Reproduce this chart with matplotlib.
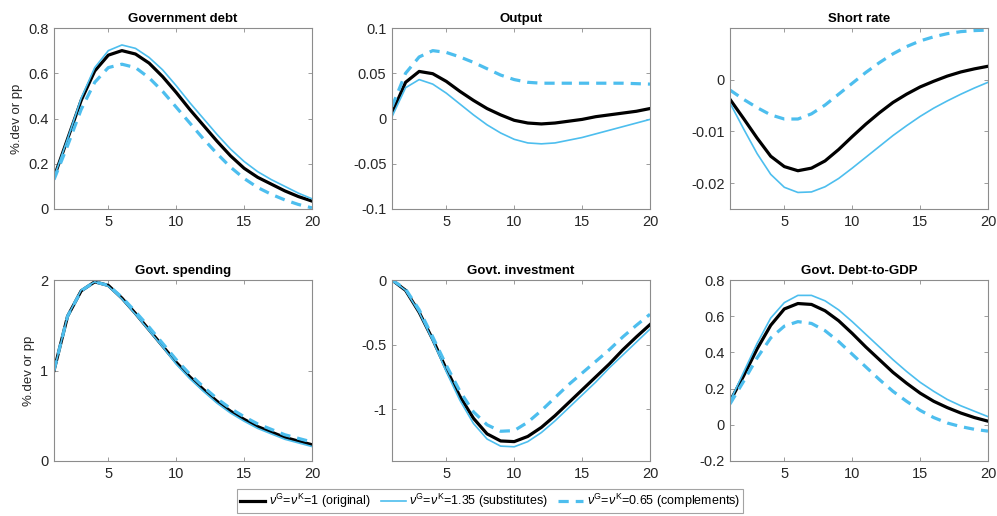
import matplotlib
matplotlib.use("Agg")
import matplotlib.pyplot as plt
import numpy as np

plt.rcParams['font.family'] = ['Liberation Sans', 'DejaVu Sans']
plt.rcParams['mathtext.fontset'] = 'custom'
plt.rcParams['mathtext.rm'] = 'Liberation Sans'
plt.rcParams['mathtext.it'] = 'Liberation Sans:italic'

horizon = np.arange(1, 21)

titles = ["Government debt", "Output", "Short rate",
          "Govt. spending", "Govt. investment", "Govt. Debt-to-GDP"]
series_labels = [r"$\nu^{\mathrm{G}}$=$\nu^{\mathrm{K}}$=1 (original)",
                 r"$\nu^{\mathrm{G}}$=$\nu^{\mathrm{K}}$=1.35 (substitutes)",
                 r"$\nu^{\mathrm{G}}$=$\nu^{\mathrm{K}}$=0.65 (complements)"]

debt_orig = [0.14, 0.31, 0.48, 0.61, 0.68, 0.70, 0.685, 0.645, 0.585, 0.515,
             0.44, 0.37, 0.30, 0.235, 0.18, 0.14, 0.11, 0.08, 0.055, 0.035]
debt_subs = [0.14, 0.31, 0.49, 0.625, 0.70, 0.725, 0.71, 0.67, 0.615, 0.545,
             0.47, 0.40, 0.33, 0.265, 0.21, 0.165, 0.13, 0.10, 0.07, 0.045]
debt_comp = [0.13, 0.28, 0.44, 0.56, 0.625, 0.64, 0.625, 0.58, 0.52, 0.45,
             0.38, 0.31, 0.245, 0.185, 0.135, 0.095, 0.065, 0.04, 0.02, 0.005]

out_orig = [0.006, 0.040, 0.052, 0.0495, 0.041, 0.030, 0.020, 0.011, 0.004, -0.002,
            -0.005, -0.006, -0.005, -0.003, -0.001, 0.002, 0.004, 0.006, 0.008, 0.011]
out_subs = [0.002, 0.034, 0.043, 0.038, 0.028, 0.016, 0.004, -0.007, -0.016, -0.023,
            -0.027, -0.028, -0.027, -0.024, -0.021, -0.017, -0.013, -0.009, -0.005, -0.001]
out_comp = [0.013, 0.050, 0.068, 0.075, 0.073, 0.068, 0.062, 0.055, 0.048, 0.043,
            0.040, 0.039, 0.039, 0.039, 0.039, 0.039, 0.039, 0.039, 0.0385, 0.038]

rate_orig = [-0.0038, -0.0075, -0.0113, -0.0148, -0.0168, -0.0176, -0.0171, -0.0157, -0.0135, -0.011,
             -0.0086, -0.0064, -0.0044, -0.0028, -0.0014, -0.0003, 0.0007, 0.0015, 0.0021, 0.0026]
rate_subs = [-0.0045, -0.0095, -0.0143, -0.0183, -0.0208, -0.0218, -0.0217, -0.0207, -0.0191, -0.0171,
             -0.015, -0.0129, -0.0108, -0.0089, -0.0071, -0.0055, -0.0041, -0.0028, -0.0016, -0.0005]
rate_comp = [-0.002, -0.0038, -0.0054, -0.0068, -0.0076, -0.0076, -0.0066, -0.0049, -0.0028, -0.0007,
             0.0014, 0.0033, 0.0050, 0.0064, 0.0075, 0.0083, 0.0089, 0.0093, 0.0095, 0.0096]

spend_orig = [1.0, 1.6, 1.88, 1.98, 1.94, 1.80, 1.63, 1.45, 1.27, 1.09,
              0.93, 0.79, 0.66, 0.55, 0.46, 0.38, 0.32, 0.26, 0.22, 0.18]
spend_subs = [1.0, 1.6, 1.89, 1.98, 1.93, 1.79, 1.62, 1.44, 1.26, 1.07,
              0.91, 0.77, 0.64, 0.53, 0.44, 0.36, 0.30, 0.24, 0.20, 0.16]
spend_comp = [1.0, 1.6, 1.88, 1.98, 1.94, 1.81, 1.65, 1.48, 1.30, 1.12,
              0.96, 0.82, 0.69, 0.58, 0.49, 0.41, 0.35, 0.29, 0.25, 0.21]

inv_orig = [0.0, -0.08, -0.25, -0.46, -0.69, -0.90, -1.07, -1.19, -1.245, -1.25,
            -1.21, -1.14, -1.05, -0.95, -0.85, -0.75, -0.65, -0.54, -0.44, -0.345]
inv_subs = [0.0, -0.08, -0.25, -0.47, -0.71, -0.93, -1.11, -1.23, -1.285, -1.29,
            -1.25, -1.18, -1.09, -0.99, -0.89, -0.79, -0.68, -0.58, -0.48, -0.38]
inv_comp = [0.0, -0.07, -0.23, -0.44, -0.66, -0.86, -1.02, -1.12, -1.17, -1.165,
            -1.10, -1.01, -0.91, -0.81, -0.72, -0.63, -0.54, -0.44, -0.35, -0.265]

dgdp_orig = [0.13, 0.27, 0.42, 0.55, 0.64, 0.67, 0.665, 0.63, 0.575, 0.505,
             0.43, 0.36, 0.29, 0.23, 0.175, 0.13, 0.095, 0.065, 0.04, 0.02]
dgdp_subs = [0.13, 0.29, 0.45, 0.59, 0.675, 0.715, 0.715, 0.685, 0.635, 0.57,
             0.50, 0.43, 0.36, 0.295, 0.235, 0.185, 0.14, 0.105, 0.075, 0.045]
dgdp_comp = [0.115, 0.24, 0.37, 0.48, 0.545, 0.57, 0.56, 0.52, 0.46, 0.39,
             0.32, 0.25, 0.185, 0.13, 0.08, 0.04, 0.01, -0.01, -0.025, -0.035]

panels = [
    (debt_orig, debt_subs, debt_comp),
    (out_orig, out_subs, out_comp),
    (rate_orig, rate_subs, rate_comp),
    (spend_orig, spend_subs, spend_comp),
    (inv_orig, inv_subs, inv_comp),
    (dgdp_orig, dgdp_subs, dgdp_comp),
]
ylims = [(0, 0.8), (-0.1, 0.1), (-0.025, 0.01), (0, 2), (-1.4, 0), (-0.2, 0.8)]
yticks = [[0, 0.2, 0.4, 0.6, 0.8],
          [-0.1, -0.05, 0, 0.05, 0.1],
          [-0.02, -0.01, 0],
          [0, 1, 2],
          [-1, -0.5, 0],
          [-0.2, 0, 0.2, 0.4, 0.6, 0.8]]
yticklabels = [["0", "0.2", "0.4", "0.6", "0.8"],
               ["-0.1", "-0.05", "0", "0.05", "0.1"],
               ["-0.02", "-0.01", "0"],
               ["0", "1", "2"],
               ["-1", "-0.5", "0"],
               ["-0.2", "0", "0.2", "0.4", "0.6", "0.8"]]

W, H = 997, 516
fig = plt.figure(figsize=(W / 100, H / 100), dpi=100)

lefts = [54, 392, 730]
width_px = 258
tops = [28, 280]
height_px = 181

blue = '#4DBEEE'
spine_col = '#8c8c8c'
text_col = '#262626'

lines_for_legend = None
for i, (orig, subs, comp) in enumerate(panels):
    r, c = divmod(i, 3)
    l = lefts[c] / W
    b = 1 - (tops[r] + height_px) / H
    ax = fig.add_axes([l, b, width_px / W, height_px / H])
    h1, = ax.plot(horizon, orig, color='black', lw=2.3)
    h2, = ax.plot(horizon, subs, color=blue, lw=1.2)
    h3, = ax.plot(horizon, comp, color=blue, lw=2.3, ls=(0, (3.2, 2.2)))
    if lines_for_legend is None:
        lines_for_legend = [h1, h2, h3]
    ax.set_xlim(1, 20)
    ax.set_ylim(*ylims[i])
    ax.set_xticks([5, 10, 15, 20])
    ax.set_xticklabels(["5", "10", "15", "20"])
    ax.set_yticks(yticks[i])
    ax.set_yticklabels(yticklabels[i])
    ax.tick_params(direction='in', length=3, width=0.6, color=spine_col,
                   labelsize=10.5, labelcolor=text_col, top=True, right=True, pad=4)
    for s in ax.spines.values():
        s.set_color(spine_col)
        s.set_linewidth(0.8)
    ax.set_title(titles[i], fontsize=9.5, fontweight='bold', pad=4, color='black')
    if c == 0:
        ax.set_ylabel("%.dev or pp", fontsize=9.5, color=text_col, labelpad=4)

leg = fig.legend(lines_for_legend, series_labels, loc='center',
                 bbox_to_anchor=(490 / W, 1 - 501 / H), ncol=3, fontsize=9,
                 frameon=True, fancybox=False, handlelength=2.0, handletextpad=0.3,
                 columnspacing=0.8, borderpad=0.25, edgecolor='#8c8c8c')
leg.get_frame().set_linewidth(0.8)

fig.savefig("out.png", dpi=100, facecolor='white')
